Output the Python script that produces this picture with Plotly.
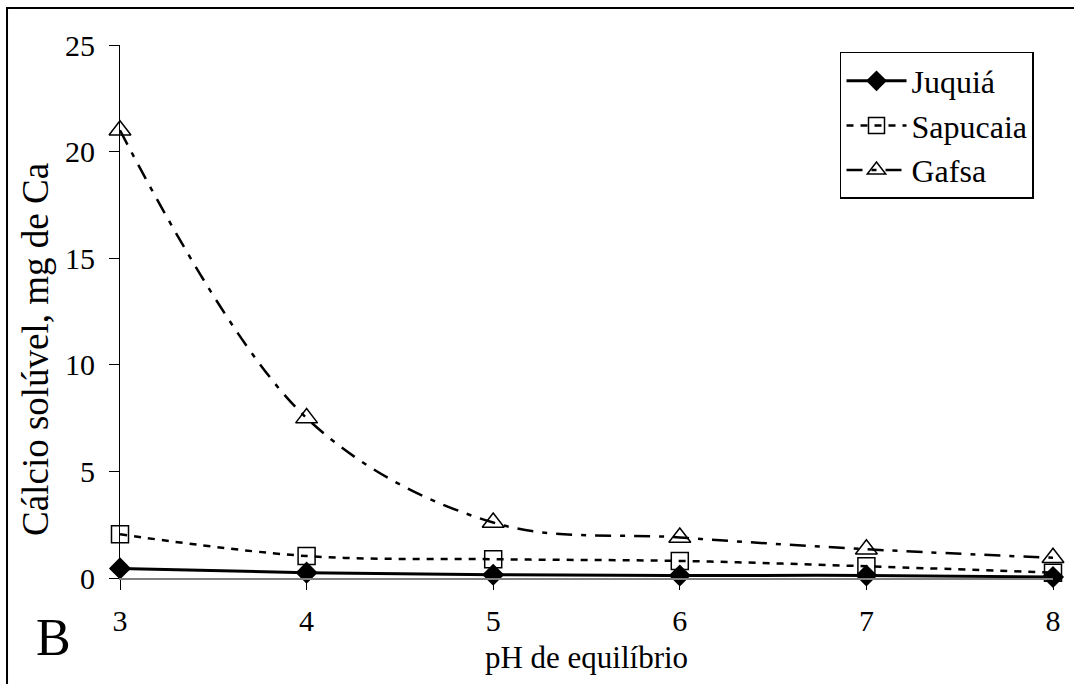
import plotly.graph_objects as go

# pH de equilíbrio
ph = [3, 4, 5, 6, 7, 8]

# Cálcio solúvel (mg de Ca) por fosfato
juquia = [0.45, 0.25, 0.15, 0.12, 0.12, 0.05]
sapucaia = [2.05, 1.03, 0.88, 0.8, 0.55, 0.25]
gafsa = [21.0, 7.5, 2.6, 1.9, 1.35, 0.95]

y_ticks = [0, 5, 10, 15, 20, 25]

FONT = "Liberation Serif"

fig = go.Figure()

fig.add_trace(go.Scatter(
    x=ph, y=juquia, name="Juquiá", mode="lines+markers",
    line=dict(color="black", width=3, shape="spline", smoothing=1),
    marker=dict(symbol="diamond", size=17, color="black"),
    cliponaxis=False,
))
fig.add_trace(go.Scatter(
    x=ph, y=sapucaia, name="Sapucaia", mode="lines+markers",
    line=dict(color="black", width=2.5, dash="7px,7px", shape="spline", smoothing=1),
    marker=dict(symbol="square-open", size=17, color="black", line=dict(width=1.5)),
    cliponaxis=False,
))
fig.add_trace(go.Scatter(
    x=ph, y=gafsa, name="Gafsa", mode="lines+markers",
    line=dict(color="black", width=2.5, dash="16px,9px,5px,9px", shape="spline", smoothing=1),
    marker=dict(symbol="triangle-up-open", size=19, color="black", line=dict(width=1.5)),
    cliponaxis=False,
))

fig.update_layout(
    width=1074, height=684,
    margin=dict(l=120, r=21, t=45, b=106),
    paper_bgcolor="white", plot_bgcolor="white",
    font=dict(family=FONT, size=30, color="black"),
    showlegend=True,
    legend=dict(
        x=0.7717, y=0.9869, xanchor="left", yanchor="top",
        bordercolor="black", borderwidth=1.5, bgcolor="white",
        font=dict(family=FONT, size=32, color="black"),
        itemwidth=60,
    ),
    xaxis=dict(
        range=[3, 8], tickvals=ph, ticktext=[str(v) for v in ph],
        showgrid=False, zeroline=False,
        showline=True, linecolor="#808080", linewidth=2,
        ticks="outside", ticklen=10, tickcolor="black", tickwidth=1,
        tickfont=dict(family=FONT, size=30), ticklabelstandoff=5,
        title=dict(text="pH de equilíbrio", font=dict(family=FONT, size=31), standoff=10),
    ),
    yaxis=dict(
        range=[0, 25], tickvals=y_ticks, ticktext=[str(v) for v in y_ticks],
        showgrid=False, zeroline=False,
        showline=True, linecolor="black", linewidth=1,
        ticks="outside", ticklen=10, tickcolor="black", tickwidth=1,
        tickfont=dict(family=FONT, size=30), ticklabelstandoff=8,
    ),
    shapes=[dict(
        type="rect", xref="paper", yref="paper",
        x0=-0.1211, y0=1.0694, x1=1.06, y1=-0.3,
        line=dict(color="black", width=2), fillcolor="rgba(0,0,0,0)",
        layer="above",
    )],
    annotations=[
        dict(
            text="Cálcio solúvel, mg de Ca", xref="paper", yref="paper",
            x=-0.090, y=0.428, xanchor="center", yanchor="middle", textangle=-90,
            showarrow=False, font=dict(family=FONT, size=37, color="black"),
        ),
        dict(
            text="B", xref="paper", yref="paper",
            x=-0.071, y=-0.111, xanchor="center", yanchor="middle",
            showarrow=False, font=dict(family=FONT, size=52, color="black"),
        ),
    ],
)

fig.write_html("out.html")
